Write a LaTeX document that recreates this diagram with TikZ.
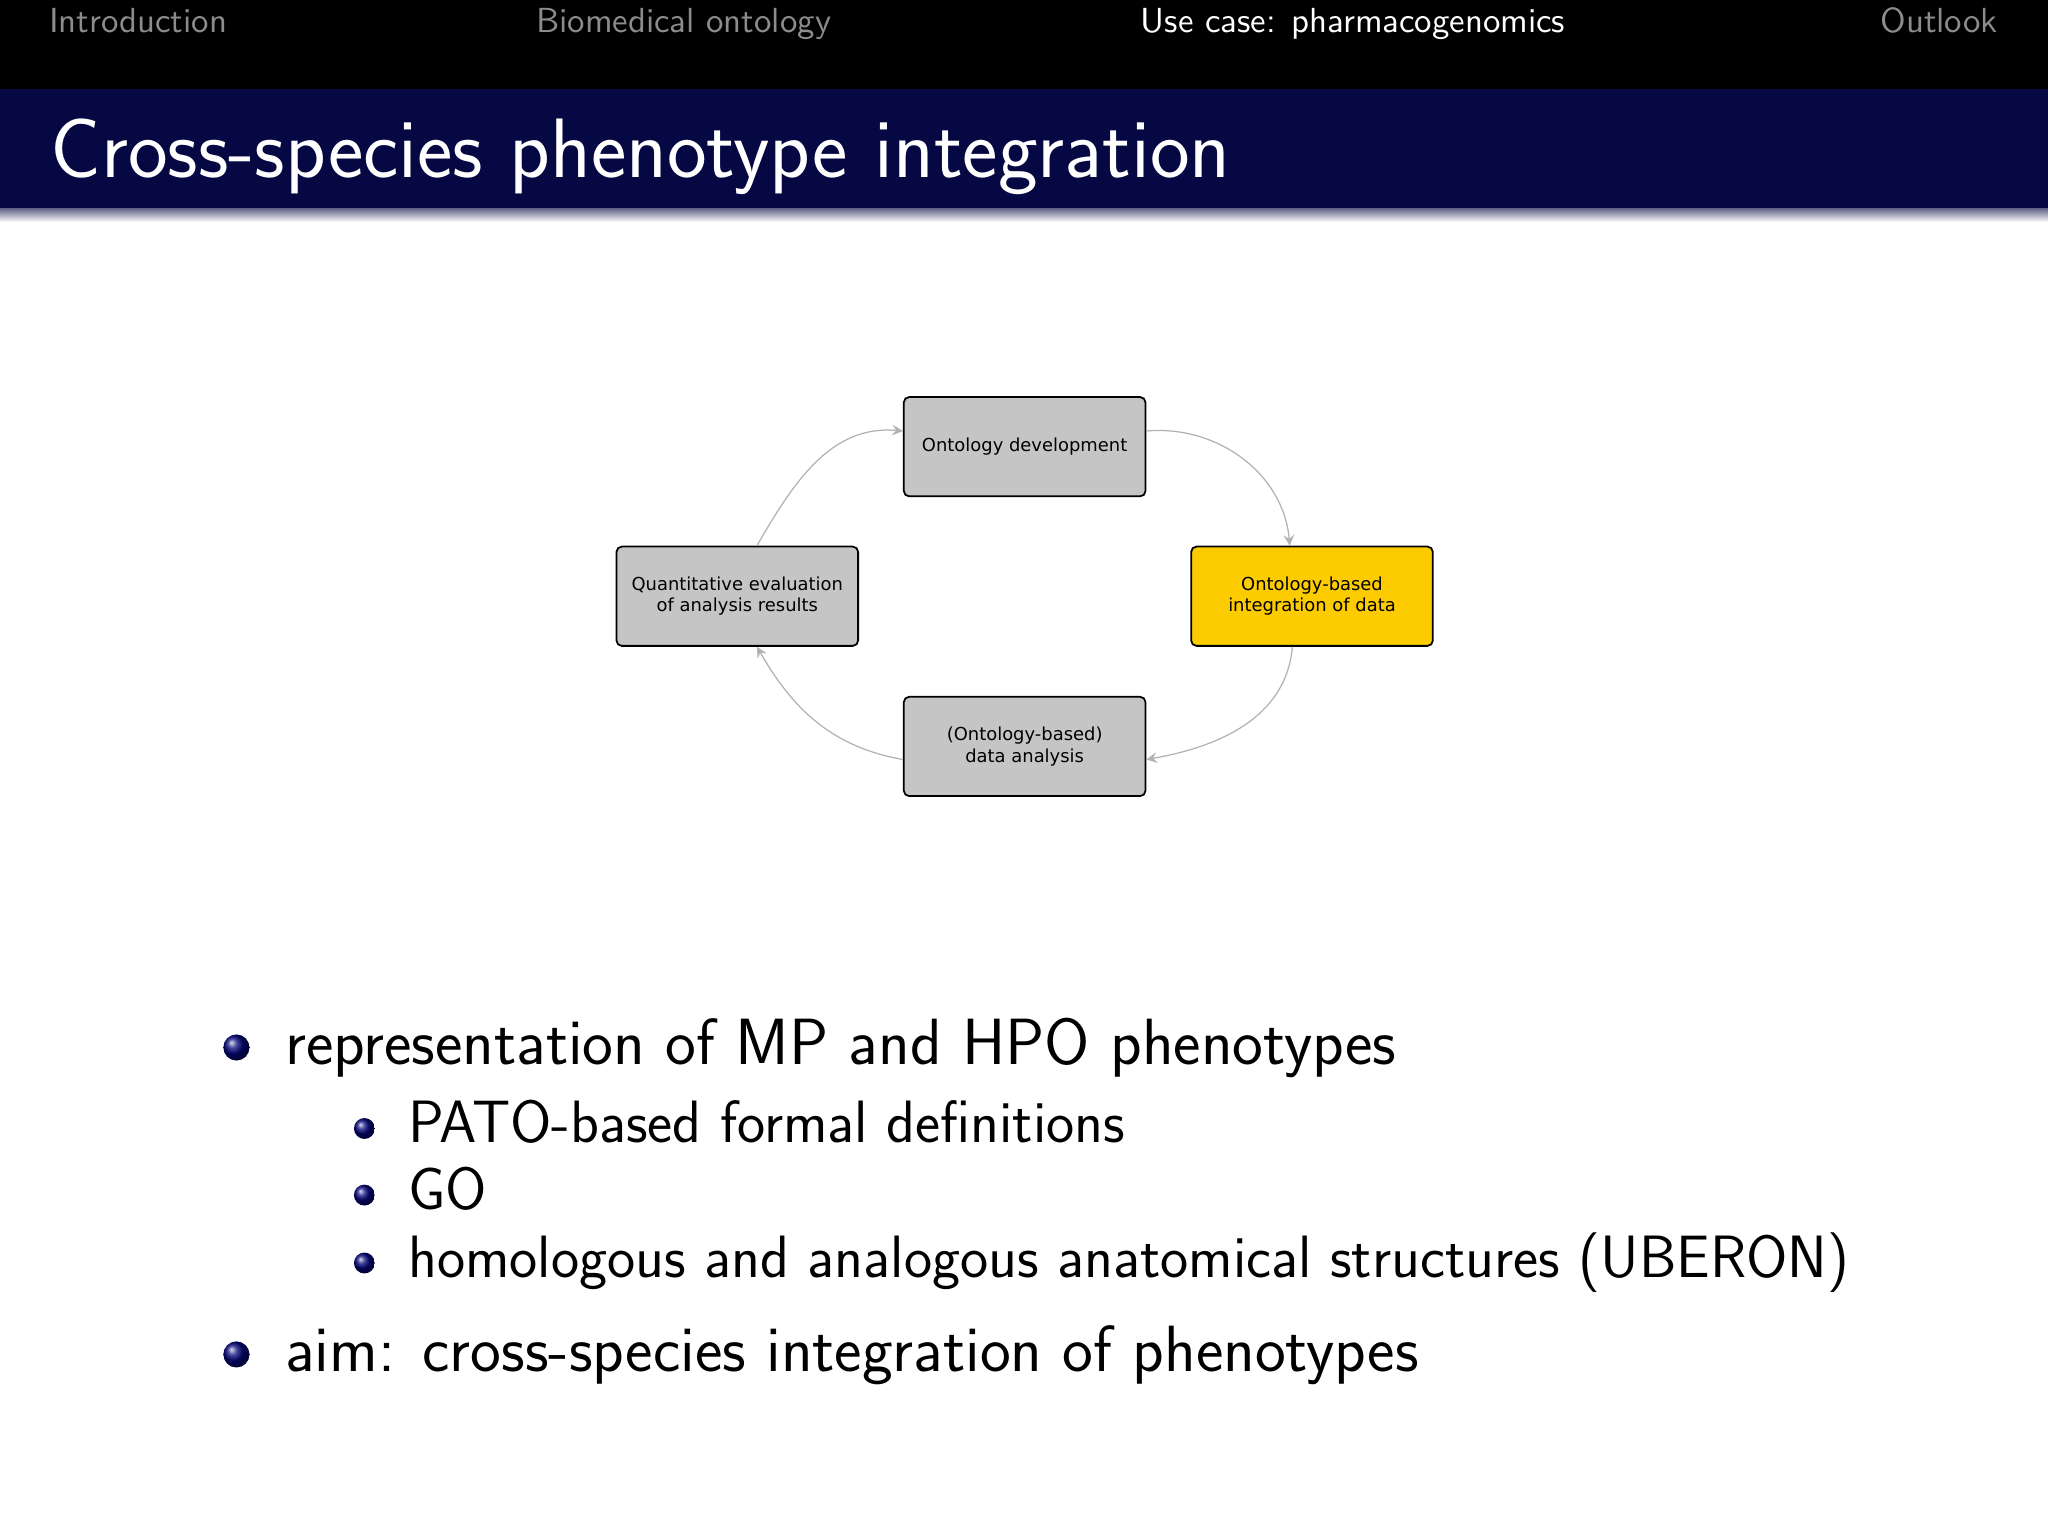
\documentclass[tikz,border=0pt]{standalone}
\usepackage{fontspec}
\newfontfamily\dejavu{DejaVu Sans}
\usetikzlibrary{shadings}
\definecolor{navy}{HTML}{050842}
\definecolor{boxgray}{HTML}{C6C5C5}
\definecolor{boxyel}{HTML}{FDCC00}
\definecolor{inact}{gray}{0.55}
\tikzset{
  box/.style={draw=black, line width=0.5pt, rounded corners=1.5pt, fill=boxgray, minimum width=185*0.013061cm, minimum height=76*0.013061cm, align=center, font=\dejavu\fontsize{5.1}{6.1}\selectfont},
  arr/.style={draw=gray!60, line width=0.35pt, -stealth},
  txt/.style={anchor=base west, inner sep=0pt},
  hdr/.style={txt, font=\sffamily\fontsize{9.9}{11}\selectfont},
  itm/.style={txt, font=\sffamily\fontsize{18.6}{22}\selectfont},
  sub/.style={txt, font=\sffamily\fontsize{17}{20}\selectfont},
  bul/.style={shading=ball, ball color=navy!70!blue},
}
\begin{document}
\begin{tikzpicture}[x=0.013061cm, y=-0.013061cm]
\useasboundingbox (0,0) rectangle (1568,1176);
\fill[white] (0,0) rectangle (1568,1176);
\fill[black] (0,0) rectangle (1568,68);
\fill[navy] (0,68) rectangle (1568,160);
\shade[top color=navy!60, bottom color=white] (0,160) rectangle (1568,170);
\node[hdr, text=inact] (h1) at (37,25) {Introduction};
\node[hdr, text=inact] (h2) at (410,25) {Biomedical ontology};
\node[hdr, text=white] (h3) at (873,25) {Use case: pharmacogenomics};
\node[hdr, text=inact, anchor=base east] (h4) at (1530,25) {Outlook};
\node[txt, text=white, font=\sffamily\fontsize{24}{29}\selectfont] (title) at (38,136) {Cross-species phenotype integration};

\node[box] (t) at (784.5,342) {Ontology development};
\node[box, fill=boxyel] (r) at (1004.5,456.5) {Ontology-based\\integration of data};
\node[box] (b) at (784.5,571.5) {(Ontology-based)\\data analysis};
\node[box] (l) at (564.5,456.5) {Quantitative evaluation\\of analysis results};

\draw[arr] ([yshift=12*0.013061cm]t.east) to[out=5,in=95] ([xshift=-17*0.013061cm]r.north);
\draw[arr] ([xshift=-15*0.013061cm]r.south) to[out=-95,in=10] ([yshift=-10*0.013061cm]b.east);
\draw[arr] ([yshift=-10*0.013061cm]b.west) to[out=170,in=-60] ([xshift=15*0.013061cm]l.south);
\draw[arr] ([xshift=15*0.013061cm]l.north) to[out=60,in=175] ([yshift=12*0.013061cm]t.west);

\shade[bul] (181,802) circle (10);
\node[itm] (i1) at (218,815) {representation of MP and HPO phenotypes};
\shade[bul] (279,864) circle (8);
\node[sub] (s1) at (312,875) {PATO-based formal definitions};
\shade[bul] (279,915) circle (8);
\node[sub] (s2) at (312,926) {GO};
\shade[bul] (279,967) circle (8);
\node[sub] (s3) at (312,978) {homologous and analogous anatomical structures (UBERON)};
\shade[bul] (181,1037) circle (10);
\node[itm] (i2) at (218,1050) {aim: cross-species integration of phenotypes};
\end{tikzpicture}
\end{document}
